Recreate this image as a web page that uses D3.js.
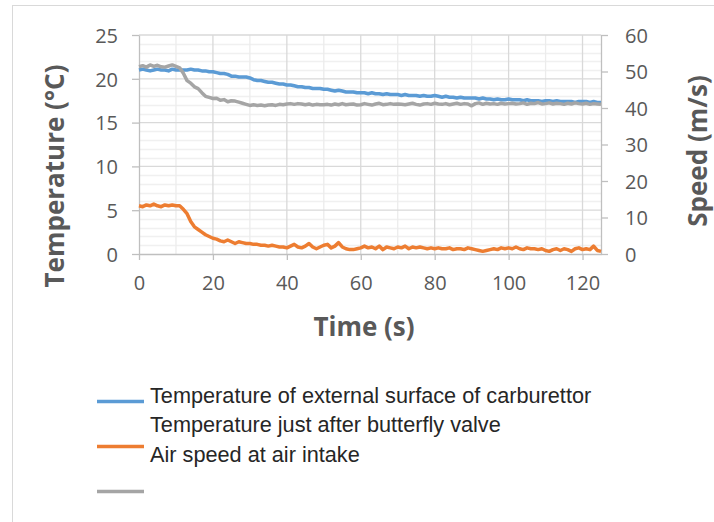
<!DOCTYPE html>
<html>
<head>
<meta charset="utf-8">
<script src="https://cdn.jsdelivr.net/npm/d3@7"></script>
<style>
  body { margin: 0; background: #fff; }
  svg { display: block; }
</style>
</head>
<body>
<svg id="chart" width="714" height="522"></svg>
<script>
// time in seconds (one sample per second)
let times = d3.range(0, 126);

// Temperature of external surface of carburettor (°C), left axis
let surfaceTemp = [
  21.0, 21.1, 21.0, 20.9, 21.0, 21.1, 21.0, 21.0, 20.9, 21.1,
  21.0, 21.0, 21.0, 21.0, 21.1, 21.0, 21.0, 20.9, 20.9, 20.8,
  20.8, 20.7, 20.6, 20.6, 20.5, 20.3, 20.3, 20.2, 20.2, 20.2,
  20.1, 19.9, 19.8, 19.8, 19.7, 19.6, 19.6, 19.5, 19.4, 19.4,
  19.3, 19.3, 19.2, 19.1, 19.1, 19.0, 19.0, 18.9, 18.9, 18.9,
  18.8, 18.8, 18.7, 18.6, 18.7, 18.6, 18.5, 18.5, 18.5, 18.4,
  18.4, 18.4, 18.3, 18.4, 18.3, 18.3, 18.2, 18.3, 18.2, 18.2,
  18.2, 18.1, 18.2, 18.1, 18.1, 18.1, 18.0, 18.1, 18.0, 18.0,
  18.1, 18.0, 17.9, 18.0, 17.9, 17.9, 17.8, 17.9, 17.8, 17.8,
  17.8, 17.8, 17.7, 17.8, 17.7, 17.7, 17.6, 17.7, 17.6, 17.6,
  17.7, 17.6, 17.6, 17.6, 17.5, 17.6, 17.5, 17.5, 17.5, 17.4,
  17.5, 17.5, 17.4, 17.5, 17.4, 17.4, 17.4, 17.4, 17.3, 17.4,
  17.4, 17.4, 17.3, 17.4, 17.3, 17.3
];

// Temperature just after butterfly valve (°C), left axis
let valveTemp = [
  5.5, 5.4, 5.6, 5.5, 5.7, 5.5, 5.4, 5.6, 5.5, 5.6,
  5.5, 5.5, 5.1, 4.6, 3.7, 3.1, 2.8, 2.5, 2.2, 2.0,
  1.8, 1.7, 1.5, 1.4, 1.6, 1.4, 1.2, 1.4, 1.3, 1.2,
  1.2, 1.1, 1.1, 1.0, 1.0, 0.9, 1.0, 0.9, 0.8, 0.8,
  0.7, 0.9, 1.1, 0.8, 0.7, 0.9, 1.2, 0.8, 0.6, 0.8,
  1.0, 1.1, 0.7, 0.9, 1.3, 0.8, 0.6, 0.5, 0.5, 0.6,
  0.7, 0.9, 0.7, 0.8, 0.6, 0.9, 0.5, 0.8, 0.7, 0.6,
  0.8, 0.7, 0.9, 0.6, 0.8, 0.7, 0.8, 0.7, 0.6, 0.7,
  0.6, 0.7, 0.6, 0.6, 0.7, 0.5, 0.6, 0.6, 0.5, 0.7,
  0.6, 0.5, 0.4, 0.3, 0.4, 0.5, 0.6, 0.5, 0.7, 0.6,
  0.7, 0.6, 0.8, 0.6, 0.5, 0.7, 0.6, 0.6, 0.5, 0.6,
  0.4, 0.3, 0.5, 0.6, 0.4, 0.6, 0.5, 0.3, 0.6, 0.7,
  0.5, 0.6, 0.5, 0.9, 0.4, 0.3
];

// Air speed at air intake (m/s), right axis
let airSpeed = [
  51.3, 51.6, 51.2, 51.8, 51.4, 51.7, 51.3, 51.2, 51.5, 51.8,
  51.4, 51.0, 49.5, 47.5, 46.8, 45.8, 45.3, 44.2, 43.2, 42.9,
  42.6, 42.7, 42.1, 42.3, 41.7, 42.0, 41.9, 41.6, 41.3, 41.0,
  40.7, 40.9, 40.7, 40.8, 40.6, 40.8, 40.9, 40.7, 41.0, 40.9,
  41.1, 41.2, 41.0, 41.2, 41.1, 40.9, 41.1, 40.8, 41.0, 40.9,
  40.9, 41.0, 40.8, 41.1, 40.9, 41.2, 40.9, 41.0, 41.1, 40.8,
  40.9, 41.2, 41.0, 40.8, 41.1, 41.3, 40.9, 41.0, 41.2, 41.0,
  41.1, 41.0, 40.9, 41.1, 41.3, 41.0, 40.8, 41.1, 41.2, 41.0,
  41.3, 41.1, 41.0, 41.2, 40.9, 41.1, 41.3, 41.0, 41.2, 41.1,
  40.6, 41.2, 41.4, 41.0, 41.3, 41.1, 41.2, 41.0, 41.3, 41.1,
  41.2, 41.3, 41.1, 41.2, 41.4, 41.0, 41.3, 41.2, 41.5, 41.1,
  41.2, 41.4, 41.1, 41.3, 41.2, 41.0, 41.3, 41.1, 41.4, 41.2,
  41.1, 41.3, 41.0, 41.2, 41.1, 41.0
];

let xTicks = [0, 20, 40, 60, 80, 100, 120];
let leftTicks = [0, 5, 10, 15, 20, 25];
let rightTicks = [0, 10, 20, 30, 40, 50, 60];

let legendNames = [
  "Temperature of external surface of carburettor",
  "Temperature just after butterfly valve",
  "Air speed at air intake"
];
let colors = ["#5b9bd5", "#ed7d31", "#a5a5a5"];

let svg = d3.select("#chart");
let tickFont = "'Open Sans', sans-serif";

let x = d3.scaleLinear().domain([0, 125]).range([139, 601]);
let yL = d3.scaleLinear().domain([0, 25]).range([254, 35]);
let yR = d3.scaleLinear().domain([0, 60]).range([254, 35]);

// outer chart frame (cropped on the right and bottom)
svg.append("rect")
  .attr("x", 12.5).attr("y", 5.5)
  .attr("width", 720).attr("height", 530)
  .style("fill", "#fff").style("stroke", "#d9d9d9");

// gridlines
let grid = svg.append("g");
grid.selectAll("line.hminor")
  .data(d3.range(0, 26).filter(v => v % 5 !== 0))
  .enter().append("line")
  .attr("x1", x(0)).attr("x2", x(125))
  .attr("y1", d => Math.round(yL(d)) + 0.5).attr("y2", d => Math.round(yL(d)) + 0.5)
  .style("stroke", "#f0f0f0").style("stroke-width", 1.3);
grid.selectAll("line.vminor")
  .data([10, 30, 50, 70, 90, 110])
  .enter().append("line")
  .attr("x1", d => x(d)).attr("x2", d => x(d))
  .attr("y1", yL(25)).attr("y2", yL(0))
  .style("stroke", "#ececec").style("stroke-width", 1.3);
grid.selectAll("line.vmajor")
  .data(xTicks.slice(1))
  .enter().append("line")
  .attr("x1", d => x(d)).attr("x2", d => x(d))
  .attr("y1", yL(25)).attr("y2", yL(0))
  .style("stroke", "#d9d9d9").style("stroke-width", 1.3);
grid.selectAll("line.hmajor")
  .data(leftTicks.slice(1))
  .enter().append("line")
  .attr("x1", x(0)).attr("x2", x(125))
  .attr("y1", d => yL(d)).attr("y2", d => yL(d))
  .style("stroke", "#d9d9d9").style("stroke-width", 1.3);

// axes
function styleAxis(g) {
  g.select(".domain").style("stroke", "#bfbfbf").style("stroke-width", 1.3);
  g.selectAll(".tick line").style("stroke", "#bfbfbf").style("stroke-width", 1.3);
  g.selectAll(".tick text")
    .style("font-family", tickFont).style("font-size", "20px").style("fill", "#595959");
}

svg.append("g")
  .attr("transform", "translate(" + x(0) + ",0)")
  .call(d3.axisLeft(yL).tickValues(leftTicks).tickSizeInner(7).tickSizeOuter(0).tickPadding(14))
  .call(styleAxis)
  .call(g => g.selectAll(".tick text").attr("dy", "0.36em"));

svg.append("g")
  .attr("transform", "translate(" + x(125) + ",0)")
  .call(d3.axisRight(yR).tickValues(rightTicks).tickSizeInner(7).tickSizeOuter(0).tickPadding(17))
  .call(styleAxis)
  .call(g => g.selectAll(".tick text").attr("dy", "0.36em"));

svg.append("g")
  .attr("transform", "translate(0," + yL(0) + ")")
  .call(d3.axisBottom(x).tickValues(xTicks).tickSizeInner(6).tickSizeOuter(0).tickPadding(16))
  .call(styleAxis);

// axis titles
let titleStyle = (t) => t
  .style("font-family", tickFont).style("font-weight", "bold")
  .style("font-size", "26px").style("fill", "#595959")
  .attr("text-anchor", "middle");

svg.append("text")
  .attr("transform", "translate(64,176) rotate(-90)")
  .call(titleStyle)
  .text("Temperature (°C)");

svg.append("text")
  .attr("transform", "translate(707,151) rotate(-90)")
  .call(titleStyle)
  .text("Speed (m/s)");

svg.append("text")
  .attr("x", 364).attr("y", 336)
  .call(titleStyle)
  .text("Time (s)");

// series
let series = [
  { values: surfaceTemp, y: yL },
  { values: valveTemp, y: yL },
  { values: airSpeed, y: yR }
];
let plot = svg.append("g");
let drawOrder = [1, 0, 2];
for (let i of drawOrder) {
  let s = series[i];
  let line = d3.line()
    .x((d, j) => x(times[j]))
    .y(d => s.y(d));
  plot.append("path")
    .datum(s.values)
    .attr("d", line)
    .style("fill", "none")
    .style("stroke", colors[i])
    .style("stroke-width", 3.5)
    .style("stroke-linejoin", "round");
}

// legend (Excel-style: markers and labels drift apart)
let legend = svg.append("g");
legend.selectAll("line")
  .data(colors)
  .enter().append("line")
  .attr("x1", 97).attr("x2", 144)
  .attr("y1", (d, i) => 401.5 + i * 45).attr("y2", (d, i) => 401.5 + i * 45)
  .style("stroke", d => d).style("stroke-width", 3.5);
legend.selectAll("text")
  .data(legendNames)
  .enter().append("text")
  .attr("x", 150)
  .attr("y", (d, i) => 403 + i * 29.3)
  .style("font-family", "'Liberation Sans', Arial, sans-serif")
  .style("font-size", "21.7px")
  .style("fill", "#262626")
  .text(d => d);
</script>
</body>
</html>
